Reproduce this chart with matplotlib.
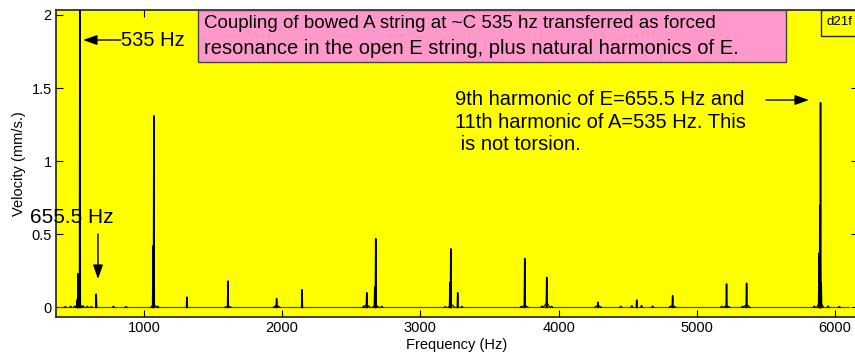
import matplotlib
matplotlib.use("Agg")
import matplotlib.pyplot as plt
from matplotlib.patches import Rectangle, FancyArrowPatch

plt.rcParams['font.family'] = ['Liberation Sans', 'DejaVu Sans']

# ---- data ----
peak_freq   = [537, 523, 516, 655, 1072, 1066, 1311, 1608, 1960, 2144, 2612, 2677, 2670,
               3220, 3214, 3270, 3755, 3914, 4285, 4565, 4825, 5215, 5360, 5895, 5890, 5884, 5900]
peak_height = [2.60, 0.23, 0.05, 0.09, 1.31, 0.42, 0.07, 0.18, 0.06, 0.12, 0.10, 0.47, 0.14,
               0.40, 0.17, 0.10, 0.335, 0.205, 0.035, 0.05, 0.08, 0.16, 0.165, 1.40, 0.70, 0.37, 0.17]
skirt_freq   = [530, 1072, 1608, 1960, 2612, 2677, 3225, 3755, 3914, 4285, 4825, 5215, 5360, 5892]
skirt_height = [0.03, 0.02, 0.008, 0.015, 0.02, 0.015, 0.02, 0.015, 0.03, 0.015, 0.012, 0.012, 0.02, 0.04]
noise_freq   = [430, 470, 500, 560, 590, 620, 780, 870, 1100, 1950,
                2590, 2720, 3180, 3300, 3730, 3880, 3950, 4450, 4530, 4600,
                4680, 4810, 5180, 5330, 5850, 5950, 6030]
noise_height = [0.006, 0.008, 0.01, 0.012, 0.008, 0.006, 0.008, 0.006, 0.008, 0.008,
                0.01, 0.008, 0.006, 0.008, 0.008, 0.01, 0.008, 0.008, 0.012, 0.014,
                0.01, 0.008, 0.008, 0.008, 0.01, 0.01, 0.006]
x_range = [364, 6166]
x_ticks = [1000, 2000, 3000, 4000, 5000, 6000]
y_ticks = [0, 0.5, 1, 1.5, 2]
y_tick_labels = ['0', '0.5', '1', '1.5', '2']

W, H = 855, 355
fig = plt.figure(figsize=(W / 100, H / 100), dpi=100)
ax = fig.add_axes([56 / W, 38 / H, 802 / W, 307 / H])
ax.set_facecolor('#FFFF00')

# baseline
ax.plot([380, 6100], [0, 0], color='#555500', lw=0.9, zorder=2)
for f, h in zip(skirt_freq, skirt_height):
    ax.plot([f - 25, f, f + 25], [0, h, 0], color='black', lw=0.8, zorder=3)
for f, h in zip(noise_freq, noise_height):
    ax.plot([f - 8, f, f + 8], [0, h, 0], color='black', lw=0.8, zorder=3)
for f, h in zip(peak_freq, peak_height):
    ax.plot([f - 3, f, f + 3], [0, h, 0], color='black', lw=1.1, zorder=4)

ax.set_xlim(*x_range)
ax.set_ylim(-0.066, 2.034)
ax.set_xticks(x_ticks)
ax.set_yticks(y_ticks)
ax.set_yticklabels(y_tick_labels)
ax.tick_params(direction='in', length=5, width=0.8, top=True, right=True,
               labelsize=10.5, pad=3, colors='black')
for s in ax.spines.values():
    s.set_linewidth(1.2)
    s.set_color('#222222')
ax.set_xlabel('Frequency (Hz)', fontsize=10.5, labelpad=2)
ax.set_ylabel('Velocity (mm/s.)', fontsize=10.5, labelpad=4)


def fx(px):
    return px / W


def fy(py):
    return 1 - py / H


arrow_kw = dict(arrowstyle='-|>,head_length=0.85,head_width=0.3', color='black',
                lw=1.0, mutation_scale=10, shrinkA=0, shrinkB=0)

# pink title box
fig.patches.append(Rectangle((fx(198), fy(62)), (786 - 198) / W, 52 / H,
                             transform=fig.transFigure, facecolor='#FF99CC',
                             edgecolor='#444444', lw=1.0, zorder=5))
fig.text(fx(204), fy(24),
         'Coupling of bowed A string at ~C 535 hz transferred as forced',
         fontsize=13.5, va='center', ha='left', zorder=6)
fig.text(fx(204), fy(48),
         'resonance in the open E string, plus natural harmonics of E.',
         fontsize=14.5, va='center', ha='left', zorder=6)

# legend-like box
fig.patches.append(Rectangle((fx(821), fy(36)), 60 / W, 26 / H,
                             transform=fig.transFigure, facecolor='#FFFF00',
                             edgecolor='#222222', lw=1.0, zorder=5))
fig.text(fx(826), fy(22), 'd21f', fontsize=9.5, va='center', ha='left', zorder=6)

# 535 Hz
fig.text(fx(121), fy(41), '535 Hz', fontsize=14.5, va='center', ha='left', zorder=6)
fig.add_artist(FancyArrowPatch((fx(121), fy(40)), (fx(83), fy(40)),
                               transform=fig.transFigure, zorder=6, **arrow_kw))

# 655.5 Hz
fig.text(fx(30), fy(218), '655.5 Hz', fontsize=15, va='center', ha='left', zorder=6)
fig.add_artist(FancyArrowPatch((fx(98), fy(234)), (fx(98), fy(279)),
                               transform=fig.transFigure, zorder=6, **arrow_kw))

# 9th harmonic
fig.text(fx(455), fy(122),
         '9th harmonic of E=655.5 Hz and\n11th harmonic of A=535 Hz. This\n is not torsion.',
         fontsize=14.5, va='center', ha='left', linespacing=1.24, zorder=6)
fig.add_artist(FancyArrowPatch((fx(766), fy(100)), (fx(809), fy(100)),
                               transform=fig.transFigure, zorder=6, **arrow_kw))

fig.savefig('out.png', dpi=100, facecolor='white')
